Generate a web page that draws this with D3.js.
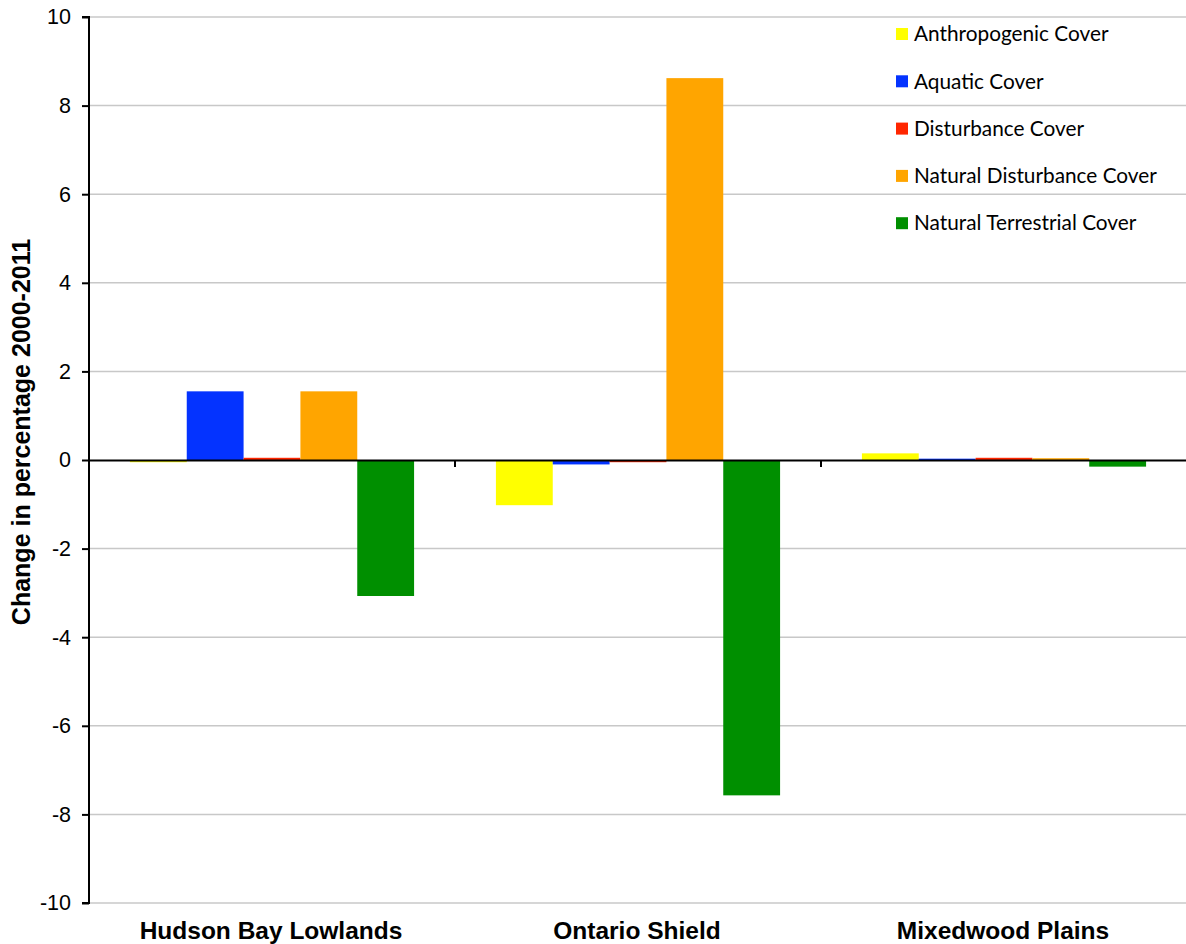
<!DOCTYPE html>
<html><head><meta charset="utf-8">
<script src="https://cdn.jsdelivr.net/npm/d3@7"></script>
<style>body{margin:0;background:#fff;} svg{display:block;}</style>
</head><body>
<svg id="chart" width="1186" height="944"></svg>
<script>
const categories = ["Hudson Bay Lowlands", "Ontario Shield", "Mixedwood Plains"];
const seriesNames = ["Anthropogenic Cover", "Aquatic Cover", "Disturbance Cover", "Natural Disturbance Cover", "Natural Terrestrial Cover"];
const seriesColors = ["#FFFF00", "#0433FF", "#FF2600", "#FFA500", "#008F00"];
const anthropogenic = [-0.05, -1.02, 0.15];
const aquatic = [1.55, -0.10, 0.03];
const disturbance = [0.05, -0.05, 0.05];
const naturalDisturbance = [1.55, 8.62, 0.04];
const naturalTerrestrial = [-3.07, -7.57, -0.15];
const yTicks = [-10, -8, -6, -4, -2, 0, 2, 4, 6, 8, 10];
const yLabel = "Change in percentage 2000-2011";

const seriesValues = [anthropogenic, aquatic, disturbance, naturalDisturbance, naturalTerrestrial];

const svg = d3.select("#chart");
const m = {left: 89, right: 1187, top: 17, bottom: 903};

const y = d3.scaleLinear().domain([-10, 10]).range([m.bottom, m.top]);
const x0 = d3.scaleBand().domain(categories).range([m.left, m.right]).paddingInner(0).paddingOuter(0);
const x1 = d3.scaleBand().domain(seriesNames).range([0, x0.bandwidth()]).paddingOuter(0.72).paddingInner(0);

// gridlines
svg.append("g").selectAll("line").data(yTicks.filter(d => d !== 0)).join("line")
  .attr("x1", m.left).attr("x2", 1186)
  .attr("y1", d => y(d)).attr("y2", d => y(d))
  .attr("stroke", "#c8c8c8").attr("stroke-width", 1.5);

// bars
const data = [];
categories.forEach((c, i) => seriesNames.forEach((s, j) => data.push({c, s, v: seriesValues[j][i], color: seriesColors[j]})));
svg.append("g").selectAll("rect").data(data).join("rect")
  .attr("x", d => x0(d.c) + x1(d.s))
  .attr("width", x1.bandwidth())
  .attr("y", d => Math.min(y(d.v), y(0)))
  .attr("height", d => Math.abs(y(d.v) - y(0)))
  .attr("fill", d => d.color);

// zero line (x axis)
const xAxis = d3.axisBottom(x0).tickSize(0).tickFormat("");
const gx = svg.append("g").attr("transform", `translate(0,${y(0)})`).call(xAxis);
gx.select(".domain").attr("stroke", "#000").attr("stroke-width", 2);
// category boundary ticks
svg.append("g").selectAll("line").data(categories.slice(1)).join("line")
  .attr("x1", d => x0(d)).attr("x2", d => x0(d))
  .attr("y1", y(0)).attr("y2", y(0) + 7)
  .attr("stroke", "#000").attr("stroke-width", 2);

// category labels
svg.append("g").selectAll("text").data(categories).join("text")
  .attr("x", d => x0(d) + x0.bandwidth() / 2 - 1)
  .attr("y", 939)
  .attr("text-anchor", "middle")
  .attr("font-family", "'Liberation Sans',Arial,sans-serif")
  .attr("font-weight", "bold").attr("font-size", 24.5)
  .attr("fill", "#000")
  .text(d => d);

// y axis
const yAxis = d3.axisLeft(y).tickValues(yTicks).tickSize(7).tickPadding(11).tickFormat(d => String(d));
const gy = svg.append("g").attr("transform", `translate(${m.left},0)`).call(yAxis);
gy.select(".domain").attr("stroke", "#000").attr("stroke-width", 2).attr("d", `M-7,${m.top}H0V${m.bottom}H-7`);
gy.selectAll(".tick line").attr("stroke", "#000").attr("stroke-width", 2);
gy.selectAll(".tick text").attr("font-family", "'Liberation Sans',Arial,sans-serif").attr("font-size", 21.5).attr("fill", "#000");

// y label
svg.append("text")
  .attr("transform", `translate(30,432) rotate(-90)`)
  .attr("text-anchor", "middle")
  .attr("font-family", "'Liberation Sans',Arial,sans-serif")
  .attr("font-weight", "bold").attr("font-size", 25)
  .attr("fill", "#000")
  .text(yLabel);

// legend
const lg = svg.append("g").attr("transform", "translate(896,34)");
const items = lg.selectAll("g").data(seriesNames).join("g").attr("transform", (d, i) => `translate(0,${i * 47.3})`);
items.append("rect").attr("x", 0).attr("y", -6).attr("width", 12).attr("height", 12).attr("fill", (d, i) => seriesColors[i]);
items.append("text").attr("x", 18).attr("y", 0).attr("dy", "0.35em")
  .attr("font-family", "Lato,'Open Sans',sans-serif").attr("font-size", 20.8).attr("fill", "#000")
  .text(d => d);
</script>
</body></html>
